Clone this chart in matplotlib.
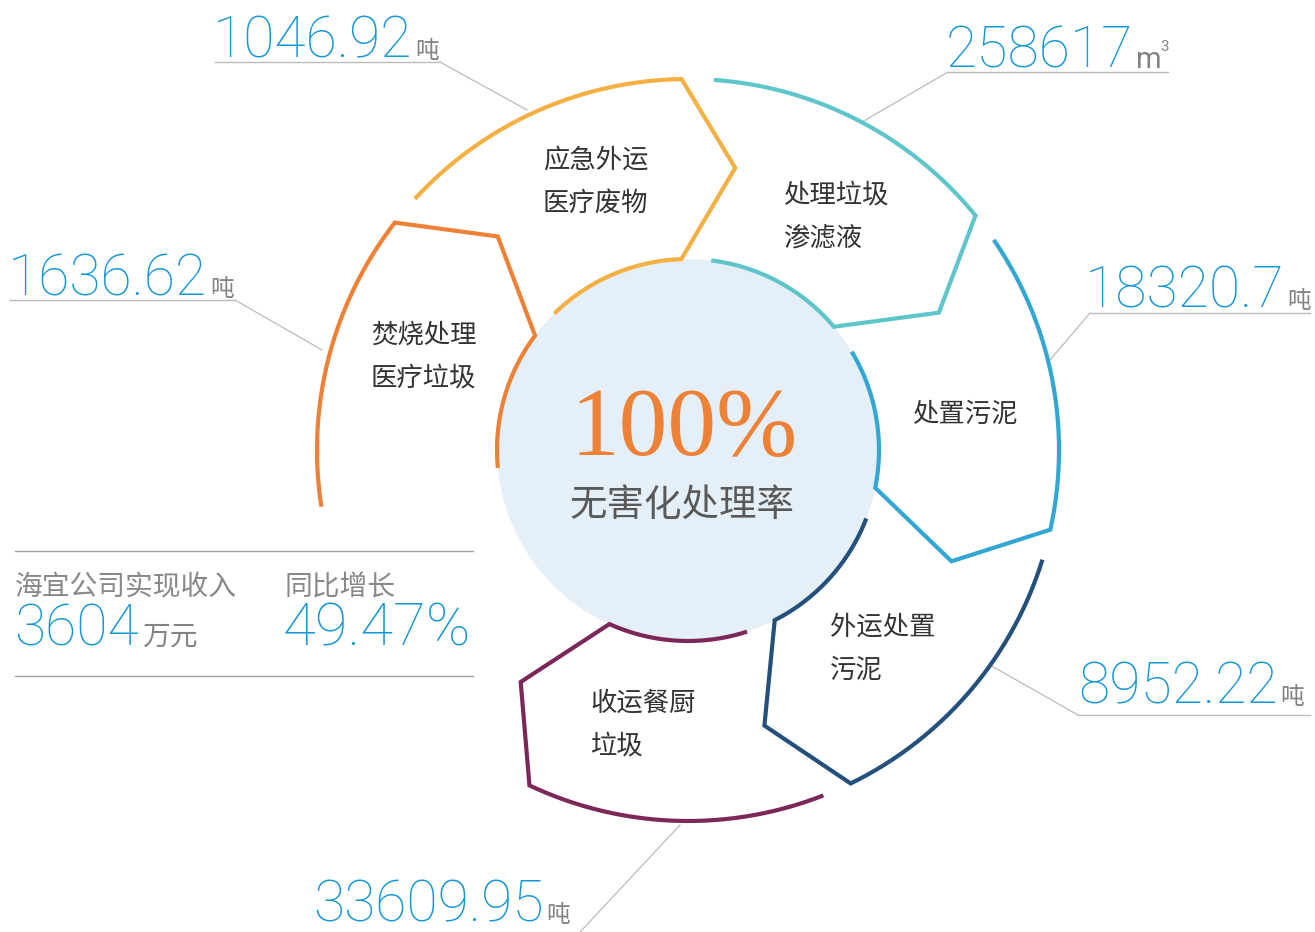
import numpy as np
import matplotlib
matplotlib.use("Agg")
import matplotlib.pyplot as plt
from matplotlib.patches import Circle

# ---------------- data ----------------
categories = ["应急外运\n医疗废物", "处理垃圾\n渗滤液", "处置污泥", "外运处置\n污泥", "收运餐厨\n垃圾", "焚烧处理\n医疗垃圾"]
values = ["1046.92", "258617", "18320.7", "8952.22", "33609.95", "1636.62"]
units = ["吨", "m³", "吨", "吨", "吨", "吨"]
colors = ["#F5B043", "#5EC6CA", "#33A7D4", "#24517B", "#7C2759", "#EE8136"]
center_value = "100%"
center_label = "无害化处理率"
revenue_label = "海宜公司实现收入"
revenue_value = "3604"
revenue_unit = "万元"
growth_label = "同比增长"
growth_value = "49.47%"

# ---------------- layout ----------------
W, H = 1315, 932
fig = plt.figure(figsize=(W / 100, H / 100), dpi=100)
ax = fig.add_axes([0, 0, 1, 1])
ax.set_xlim(0, W)
ax.set_ylim(H, 0)
ax.axis("off")

cx, cy = 688, 450
R_in, R_out, R_tip = 191, 371, 286
# outer start, outer end, inner start (degrees, math convention)
seg_angles = [(137.4, 91.0, 134.4), (86.0, 39.2, 83.0), (34.5, -12.4, 31.0),
              (-17.2, -64.0, -21.0), (-68.6, -115.3, -72.0), (188.8, 142.2, 185.4)]

def pt(r, a):
    t = np.deg2rad(a)
    return cx + r * np.cos(t), cy - r * np.sin(t)

ax.add_patch(Circle((cx, cy), R_in, facecolor="#E4EFF8", edgecolor="none", zorder=1))

for (os_, oe, is_), col in zip(seg_angles, colors):
    a_out = np.linspace(os_, oe, 120)
    xs = list(cx + R_out * np.cos(np.deg2rad(a_out)))
    ys = list(cy - R_out * np.sin(np.deg2rad(a_out)))
    tx, ty = pt(R_tip, oe - 10.5)
    xs.append(tx); ys.append(ty)
    ie = oe + 1.0
    a_in = np.linspace(ie, is_, 100)
    xs += list(cx + R_in * np.cos(np.deg2rad(a_in)))
    ys += list(cy - R_in * np.sin(np.deg2rad(a_in)))
    ax.plot(xs, ys, color=col, lw=3.0, solid_joinstyle="miter", solid_capstyle="butt", zorder=3)

# segment labels
label_pos = [(543, 160), (783, 195), (912, 414), (830, 627), (590, 703), (371, 335)]
for (lx, ly), txt in zip(label_pos, categories):
    for i, line in enumerate(txt.split("\n")):
        ax.text(lx, ly + i * 43, line, fontsize=19, color="#333333",
                family=["Noto Sans CJK SC", "DejaVu Sans"], ha="left", va="center", zorder=4)

# center texts
ax.text(684, 432, center_value, fontsize=70, color="#EE8136", family=["Liberation Serif"],
        ha="center", va="center", zorder=4)
ax.text(682, 505, center_label, fontsize=27, color="#595959",
        family=["Noto Sans CJK SC"], ha="center", va="center", zorder=4)

# value labels with leader lines
num_font = dict(family=["Roboto", "DejaVu Sans"], fontweight="light")
cjk_font = dict(family=["Noto Sans CJK SC", "DejaVu Sans"])
value_color = "#1497D6"
unit_color = "#838383"
lead_color = "#BBBBBB"

# (x, baseline y, underline [x0,x1,y] or None, leader polyline)
value_layout = [
    (213, 58, (215, 440, 62), [(440, 62), (527, 110)]),
    (946, 68, (948, 1168, 72), [(948, 72), (862, 122)]),
    (1085, 308, (1090, 1310, 313), [(1090, 313), (1050, 360)]),
    (1078, 704, (1078, 1310, 715), [(1078, 715), (990, 665)]),
    (313, 922, None, [(580, 932), (680, 825)]),
    (8, 296, (10, 235, 300), [(235, 300), (322, 350)]),
]

fig.canvas.draw()
renderer = fig.canvas.get_renderer()
inv = ax.transData.inverted()

for (vx, vy, ul, lead), val, unit in zip(value_layout, values, units):
    t = ax.text(vx, vy, val, fontsize=41, color=value_color, ha="left", va="baseline", zorder=4, **num_font)
    bb = t.get_window_extent(renderer=renderer)
    x_end = inv.transform((bb.x1, bb.y0))[0]
    if unit == "m³":
        ax.text(x_end + 3, vy, "m", fontsize=21, color=unit_color, ha="left", va="baseline",
                family=["Roboto", "DejaVu Sans"], zorder=4)
        ax.text(x_end + 27, vy - 17, "3", fontsize=11, color=unit_color, ha="left", va="baseline",
                family=["Roboto", "DejaVu Sans"], zorder=4)
    else:
        ax.text(x_end + 3, vy, unit, fontsize=17, color=unit_color, ha="left", va="baseline",
                zorder=4, **cjk_font)
    if ul is not None:
        ax.plot([ul[0], ul[1]], [ul[2], ul[2]], color=lead_color, lw=1.0, zorder=2)
    lx, ly = zip(*lead)
    ax.plot(lx, ly, color=lead_color, lw=0.9, zorder=2)

# revenue box
ax.plot([15, 473], [551, 551], color="#A0A0A0", lw=1.0)
ax.plot([15, 473], [676, 676], color="#A0A0A0", lw=1.0)
ax.text(15, 587, revenue_label, fontsize=20, color="#888888", ha="left", va="center", **cjk_font)
ax.text(285, 587, growth_label, fontsize=20, color="#888888", ha="left", va="center", **cjk_font)
t = ax.text(14, 646, revenue_value, fontsize=41, color=value_color, ha="left", va="baseline", **num_font)
bb = t.get_window_extent(renderer=renderer)
x_end = inv.transform((bb.x1, bb.y0))[0]
ax.text(x_end + 3, 645, revenue_unit, fontsize=20, color=unit_color, ha="left", va="baseline", **cjk_font)
ax.text(283, 646, growth_value, fontsize=43, color=value_color, ha="left", va="baseline", **num_font)

fig.savefig("out.png", dpi=100, facecolor="white")
